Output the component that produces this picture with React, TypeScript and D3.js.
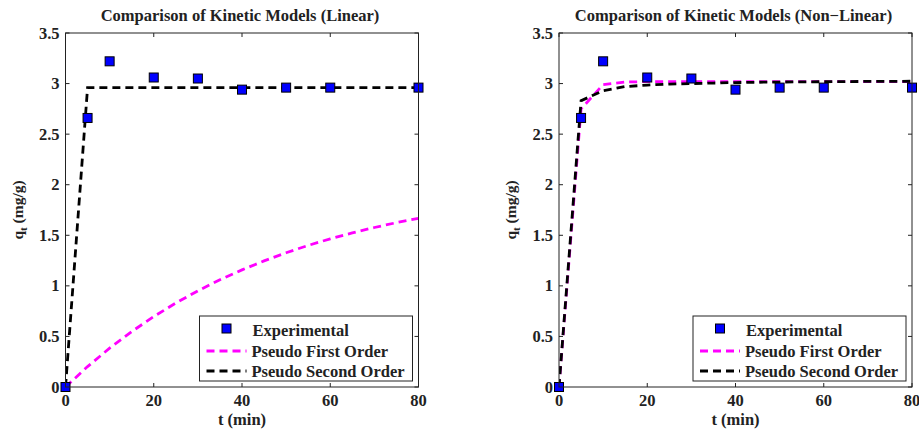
import React from "react";
import * as d3 from "d3";

const expT = [0, 5, 10, 20, 30, 40, 50, 60, 80];
const expQ = [0, 2.66, 3.22, 3.06, 3.05, 2.94, 2.96, 2.96, 2.96];

const modelT = [0, 5, 10, 15, 20, 25, 30, 35, 40, 45, 50, 55, 60, 65, 70, 75, 80];
const linPFO = [0, 0.202, 0.384, 0.548, 0.696, 0.83, 0.951, 1.06, 1.158, 1.247, 1.327, 1.4, 1.465, 1.524, 1.577, 1.625, 1.668];
const linPSO = [0, 2.96, 2.96, 2.96, 2.96, 2.96, 2.96, 2.96, 2.96, 2.96, 2.96, 2.96, 2.96, 2.96, 2.96, 2.96, 2.96];
const nlPFO = [0, 2.75, 2.99, 3.015, 3.02, 3.02, 3.02, 3.02, 3.02, 3.02, 3.02, 3.02, 3.02, 3.02, 3.02, 3.02, 3.02];
const nlPSO = [0, 2.83, 2.93, 2.97, 2.985, 2.995, 3.0, 3.005, 3.01, 3.013, 3.015, 3.017, 3.018, 3.02, 3.021, 3.022, 3.023];

const xTicks = [0, 20, 40, 60, 80];
const yTicks = [0, 0.5, 1, 1.5, 2, 2.5, 3, 3.5];
const titles = ["Comparison of Kinetic Models (Linear)", "Comparison of Kinetic Models (Non\u2212Linear)"];
const legendLabels = ["Experimental", "Pseudo First Order", "Pseudo Second Order"];

const FONT = "'Liberation Serif', 'Times New Roman', serif";
const PINK = "#ff00ff";
const BLUE = "#0000ff";
const FS = 16.5;

function Panel({ x0, x1, title, pfo, pso }: { x0: number; x1: number; title: string; pfo: number[]; pso: number[] }) {
  const top = 33;
  const bottom = 387;
  const x = d3.scaleLinear().domain([0, 80]).range([x0, x1]);
  const y = d3.scaleLinear().domain([0, 3.5]).range([bottom, top]);
  const line = d3
    .line<number>()
    .x((_, i) => x(modelT[i]))
    .y((d) => y(d));
  const clipId = `clip-${Math.round(x0)}`;
  const lgX0 = x1 - 219;
  const lgX1 = x1 - 6;
  const lgY0 = 316;
  const lgY1 = 381;
  const rows = [330, 351, 371];
  const sx0 = lgX0 + 7;
  const sx1 = lgX0 + 47;
  const textX = lgX0 + 52;
  const dash = "8,5";
  return (
    <g>
      <defs>
        <clipPath id={clipId}>
          <rect x={x0} y={top} width={x1 - x0} height={bottom - top} />
        </clipPath>
      </defs>
      <text x={(x0 + x1) / 2 - 2} y={21} textAnchor="middle" fontFamily={FONT} fontWeight="bold" fontSize={FS} fill="#222">
        {title}
      </text>
      {xTicks.map((t) => (
        <g key={"x" + t}>
          <line x1={x(t)} x2={x(t)} y1={bottom} y2={bottom - 4} stroke="#222" />
          <line x1={x(t)} x2={x(t)} y1={top} y2={top + 4} stroke="#222" />
          <text x={x(t)} y={406} textAnchor="middle" fontFamily={FONT} fontWeight="bold" fontSize={FS} fill="#222">
            {t}
          </text>
        </g>
      ))}
      {yTicks.map((t) => (
        <g key={"y" + t}>
          <line x1={x0} x2={x0 + 4} y1={y(t)} y2={y(t)} stroke="#222" />
          <line x1={x1} x2={x1 - 4} y1={y(t)} y2={y(t)} stroke="#222" />
          <text x={x0 - 6} y={y(t) + 5.5} textAnchor="end" fontFamily={FONT} fontWeight="bold" fontSize={FS} fill="#222">
            {t}
          </text>
        </g>
      ))}
      <text x={(x0 + x1) / 2} y={425} textAnchor="middle" fontFamily={FONT} fontWeight="bold" fontSize={FS} fill="#222">
        t (min)
      </text>
      <text
        transform={`translate(${x0 - 43},${(top + bottom) / 2}) rotate(-90)`}
        textAnchor="middle"
        fontFamily={FONT}
        fontWeight="bold"
        fontSize={15.5}
        fill="#222"
      >
        q<tspan fontSize={11} dy={4}>t</tspan>
        <tspan dy={-4}> (mg/g)</tspan>
      </text>
      <g clipPath={`url(#${clipId})`}>
        <path d={line(pfo) || ""} fill="none" stroke={PINK} strokeWidth={2.8} strokeDasharray={dash} />
        <path d={line(pso) || ""} fill="none" stroke="#000" strokeWidth={2.8} strokeDasharray={dash} />
      </g>
      {expT.map((t, i) => (
        <rect key={"p" + i} x={x(t) - 4.5} y={y(expQ[i]) - 4.5} width={9} height={9} fill={BLUE} stroke="#000" strokeWidth={1} />
      ))}
      <rect x={x0} y={top} width={x1 - x0} height={bottom - top} fill="none" stroke="#222" strokeWidth={1} />
      <rect x={lgX0} y={lgY0} width={lgX1 - lgX0} height={lgY1 - lgY0} fill="#fff" stroke="#222" strokeWidth={1} />
      <rect x={(sx0 + sx1) / 2 - 4.5} y={rows[0] - 6} width={9} height={9} fill={BLUE} stroke="#000" strokeWidth={1} />
      <line x1={sx0} x2={sx1} y1={rows[1]} y2={rows[1]} stroke={PINK} strokeWidth={2.8} strokeDasharray={dash} />
      <line x1={sx0} x2={sx1} y1={rows[2]} y2={rows[2]} stroke="#000" strokeWidth={2.8} strokeDasharray={dash} />
      {legendLabels.map((l, i) => (
        <text key={l} x={i === 0 ? textX + 1 : textX} y={rows[i] + 5.5} fontFamily={FONT} fontWeight="bold" fontSize={FS} fill="#222">
          {l}
        </text>
      ))}
    </g>
  );
}

export default function App() {
  return (
    <svg width={919} height={430} style={{ position: "absolute", left: 0, top: 0, background: "#fff" }}>
      <rect x={0} y={0} width={919} height={430} fill="#fff" />
      <Panel x0={65.5} x1={418.5} title={titles[0]} pfo={linPFO} pso={linPSO} />
      <Panel x0={559} x1={912} title={titles[1]} pfo={nlPFO} pso={nlPSO} />
    </svg>
  );
}
